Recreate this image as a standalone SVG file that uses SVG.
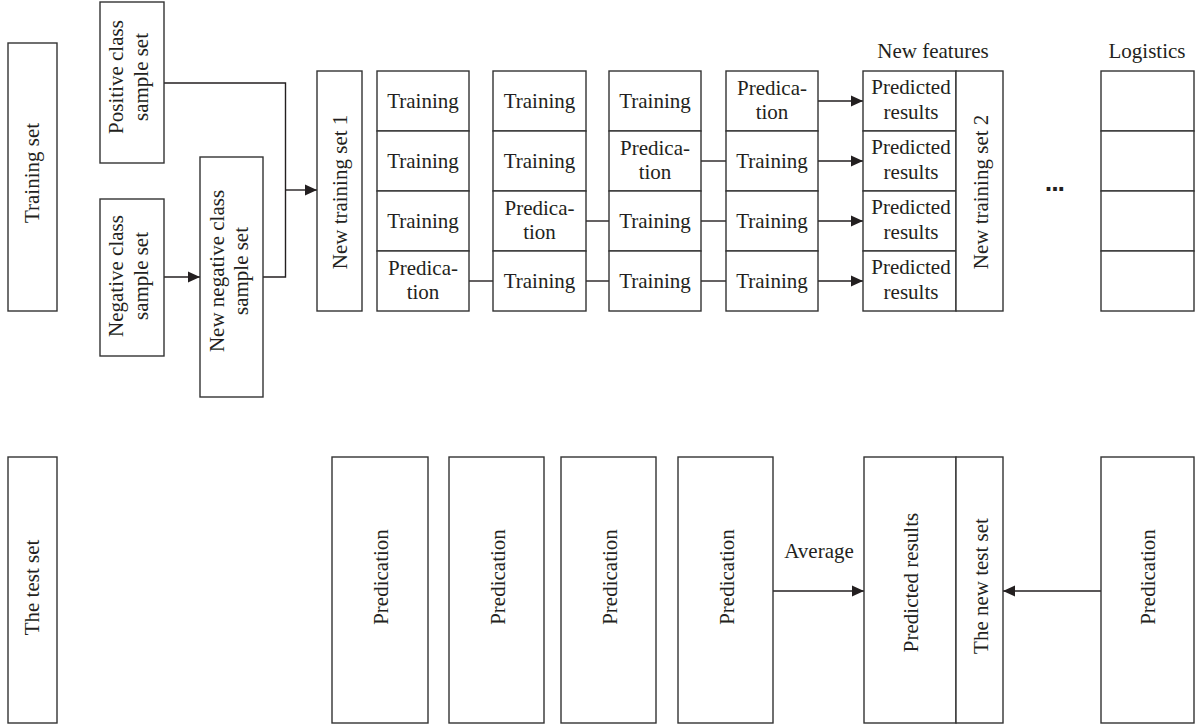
<svg xmlns="http://www.w3.org/2000/svg" width="1201" height="727" viewBox="0 0 1201 727">
<style>
.b{fill:#fff;stroke:#333;stroke-width:1.4}
.t{font-family:"Liberation Serif","Times New Roman",serif;font-size:21px;fill:#231f20}
.m{text-anchor:middle}
.c{fill:none;stroke:#231f20;stroke-width:1.4}
</style>
<defs>
<marker id="ah" markerUnits="userSpaceOnUse" markerWidth="13" markerHeight="13" refX="12" refY="6.5" orient="auto">
<path d="M0,1 L12,6.5 L0,12 Z" fill="#231f20"/>
</marker>
</defs>
<rect width="1201" height="727" fill="#fff"/>

<g id="connectors">
<polyline class="c" points="164,83 285.5,83 285.5,277 263,277"/>
<line class="c" x1="285.5" y1="190" x2="317" y2="190" marker-end="url(#ah)"/>
<line class="c" x1="164" y1="277" x2="200" y2="277" marker-end="url(#ah)"/>
<line class="c" x1="469" y1="281" x2="493" y2="281"/>
<line class="c" x1="586" y1="221" x2="609" y2="221"/>
<line class="c" x1="586" y1="281" x2="609" y2="281"/>
<line class="c" x1="701" y1="161" x2="726" y2="161"/>
<line class="c" x1="701" y1="221" x2="726" y2="221"/>
<line class="c" x1="701" y1="281" x2="726" y2="281"/>
<line class="c" x1="818" y1="101" x2="863" y2="101" marker-end="url(#ah)"/>
<line class="c" x1="818" y1="161" x2="863" y2="161" marker-end="url(#ah)"/>
<line class="c" x1="818" y1="221" x2="863" y2="221" marker-end="url(#ah)"/>
<line class="c" x1="818" y1="281" x2="863" y2="281" marker-end="url(#ah)"/>
<line class="c" x1="773" y1="591" x2="864" y2="591" marker-end="url(#ah)"/>
<line class="c" x1="1101" y1="591" x2="1003" y2="591" marker-end="url(#ah)"/>
<text class="t m" x="819" y="558">Average</text>
</g>

<g id="training-set">
<rect class="b" x="8" y="43" width="49" height="268"/>
<text class="t m" transform="translate(39,173) rotate(-90)">Training set</text>
</g>
<g id="positive">
<rect class="b" x="100" y="2" width="64" height="161"/>
<text class="t m" transform="translate(0,77) rotate(-90)"><tspan x="0" y="123">Positive class</tspan><tspan x="0" y="148">sample set</tspan></text>
</g>
<g id="negative">
<rect class="b" x="100" y="199" width="64" height="157"/>
<text class="t m" transform="translate(0,276) rotate(-90)"><tspan x="0" y="123">Negative class</tspan><tspan x="0" y="148">sample set</tspan></text>
</g>
<g id="new-negative">
<rect class="b" x="200" y="157" width="63" height="240"/>
<text class="t m" transform="translate(0,271) rotate(-90)"><tspan x="0" y="224">New negative class</tspan><tspan x="0" y="248">sample set</tspan></text>
</g>
<g id="new-training-set-1">
<rect class="b" x="317" y="71" width="45" height="240"/>
<text class="t m" transform="translate(347,192) rotate(-90)">New training set 1</text>
</g>

<g id="fold-1">
<rect class="b" x="377" y="71" width="92" height="60"/>
<rect class="b" x="377" y="131" width="92" height="60"/>
<rect class="b" x="377" y="191" width="92" height="60"/>
<rect class="b" x="377" y="251" width="92" height="60"/>
<text class="t m" x="423" y="107.5">Training</text>
<text class="t m" x="423" y="167.5">Training</text>
<text class="t m" x="423" y="227.5">Training</text>
<text class="t m" x="423" y="275">Predica-</text>
<text class="t m" x="423" y="299">tion</text>
</g>
<g id="fold-2">
<rect class="b" x="493" y="71" width="93" height="60"/>
<rect class="b" x="493" y="131" width="93" height="60"/>
<rect class="b" x="493" y="191" width="93" height="60"/>
<rect class="b" x="493" y="251" width="93" height="60"/>
<text class="t m" x="539.5" y="107.5">Training</text>
<text class="t m" x="539.5" y="167.5">Training</text>
<text class="t m" x="539.5" y="215">Predica-</text>
<text class="t m" x="539.5" y="239">tion</text>
<text class="t m" x="539.5" y="287.5">Training</text>
</g>
<g id="fold-3">
<rect class="b" x="609" y="71" width="92" height="60"/>
<rect class="b" x="609" y="131" width="92" height="60"/>
<rect class="b" x="609" y="191" width="92" height="60"/>
<rect class="b" x="609" y="251" width="92" height="60"/>
<text class="t m" x="655" y="107.5">Training</text>
<text class="t m" x="655" y="155">Predica-</text>
<text class="t m" x="655" y="179">tion</text>
<text class="t m" x="655" y="227.5">Training</text>
<text class="t m" x="655" y="287.5">Training</text>
</g>
<g id="fold-4">
<rect class="b" x="726" y="71" width="92" height="60"/>
<rect class="b" x="726" y="131" width="92" height="60"/>
<rect class="b" x="726" y="191" width="92" height="60"/>
<rect class="b" x="726" y="251" width="92" height="60"/>
<text class="t m" x="772" y="95">Predica-</text>
<text class="t m" x="772" y="119">tion</text>
<text class="t m" x="772" y="167.5">Training</text>
<text class="t m" x="772" y="227.5">Training</text>
<text class="t m" x="772" y="287.5">Training</text>
</g>

<g id="new-features">
<text class="t m" x="933" y="57.5">New features</text>
<rect class="b" x="863" y="71" width="93" height="60"/>
<rect class="b" x="863" y="131" width="93" height="60"/>
<rect class="b" x="863" y="191" width="93" height="60"/>
<rect class="b" x="863" y="251" width="93" height="60"/>
<text class="t m" x="911" y="93.5">Predicted</text>
<text class="t m" x="911" y="119">results</text>
<text class="t m" x="911" y="153.5">Predicted</text>
<text class="t m" x="911" y="179">results</text>
<text class="t m" x="911" y="213.5">Predicted</text>
<text class="t m" x="911" y="239">results</text>
<text class="t m" x="911" y="273.5">Predicted</text>
<text class="t m" x="911" y="299">results</text>
</g>
<g id="new-training-set-2">
<rect class="b" x="956" y="71" width="47" height="240"/>
<text class="t m" transform="translate(988,192) rotate(-90)">New training set 2</text>
</g>

<g id="ellipsis">
<text x="1044.5" y="190.7" style="font-family:'DejaVu Sans',sans-serif;font-weight:bold;font-size:21px;letter-spacing:-1.6px;fill:#231f20">...</text>
</g>

<g id="logistics">
<text class="t m" x="1147" y="57.5">Logistics</text>
<rect class="b" x="1101" y="71" width="93" height="60"/>
<rect class="b" x="1101" y="131" width="93" height="60"/>
<rect class="b" x="1101" y="191" width="93" height="60"/>
<rect class="b" x="1101" y="251" width="93" height="60"/>
</g>

<g id="test-set">
<rect class="b" x="8" y="457" width="49" height="266"/>
<text class="t m" transform="translate(39,587.5) rotate(-90)">The test set</text>
</g>
<g id="pred-1">
<rect class="b" x="332" y="457" width="96" height="266"/>
<text class="t m" transform="translate(388,577) rotate(-90)">Predication</text>
</g>
<g id="pred-2">
<rect class="b" x="449" y="457" width="95" height="266"/>
<text class="t m" transform="translate(504.5,577) rotate(-90)">Predication</text>
</g>
<g id="pred-3">
<rect class="b" x="561" y="457" width="95" height="266"/>
<text class="t m" transform="translate(616.5,577) rotate(-90)">Predication</text>
</g>
<g id="pred-4">
<rect class="b" x="678" y="457" width="95" height="266"/>
<text class="t m" transform="translate(733.5,577) rotate(-90)">Predication</text>
</g>
<g id="predicted-results">
<rect class="b" x="864" y="457" width="92" height="266"/>
<text class="t m" transform="translate(918,582.5) rotate(-90)">Predicted results</text>
</g>
<g id="new-test-set">
<rect class="b" x="956" y="457" width="47" height="266"/>
<text class="t m" transform="translate(988,586) rotate(-90)">The new test set</text>
</g>
<g id="pred-logistics">
<rect class="b" x="1101" y="457" width="93" height="266"/>
<text class="t m" transform="translate(1155,577) rotate(-90)">Predication</text>
</g>
</svg>
